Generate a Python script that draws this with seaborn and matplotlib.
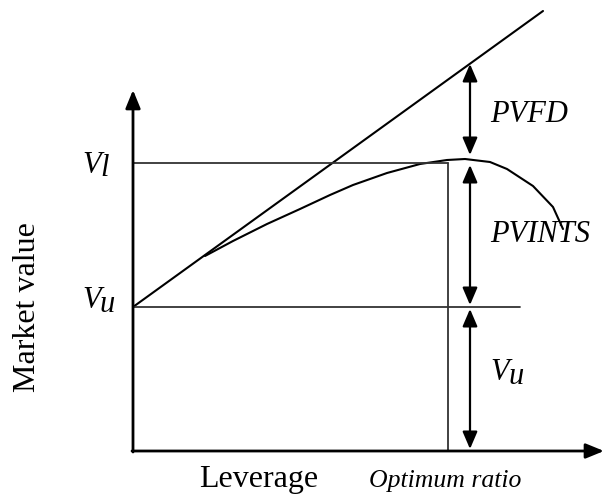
import matplotlib
matplotlib.use("Agg")
import matplotlib.pyplot as plt
import seaborn as sns
import pandas as pd

# ---- data (diagram units; origin at the axes corner) ----
line_x = [0, 410]                      # value of levered firm ignoring distress costs
line_y = [144, 440]
curve_x = [72, 100, 134, 167, 197, 220, 254, 287, 314, 332, 357, 374, 400, 420, 430]
curve_y = [195, 210, 227, 242, 256, 266, 278, 287, 291, 292, 289, 282, 265, 244, 222]
V_u = 144
V_l = 288
optimum_x = 315
vu_line_end = 387
arrow_x = 337
pvfd_span = [387, 296]
pvints_span = [286, 146]
vu_span = [142, 2]
x_axis_end = 471
y_axis_end = 361

sns.set_theme(style="white")
plt.rcParams['font.family'] = ['Liberation Serif', 'DejaVu Serif']

fig = plt.figure(figsize=(6.06, 4.95), dpi=100)
ax = fig.add_axes([0, 0, 1, 1])
ax.set_xlim(-133, 473)
ax.set_ylim(-44, 451)
ax.axis('off')

df_line = pd.DataFrame({'x': line_x, 'y': line_y})
df_curve = pd.DataFrame({'x': curve_x, 'y': curve_y})
sns.lineplot(data=df_line, x='x', y='y', ax=ax, color='black', lw=1.5, estimator=None)
sns.lineplot(data=df_curve, x='x', y='y', ax=ax, color='black', lw=1.5, estimator=None)

# horizontal and vertical guide lines
ax.plot([0, optimum_x], [V_l, V_l], color='#333333', lw=1.3)
ax.plot([optimum_x, optimum_x], [0, V_l], color='#333333', lw=1.3)
ax.plot([0, vu_line_end], [V_u, V_u], color='#333333', lw=1.3)

# axes with arrows
ax.annotate('', xy=(0, y_axis_end), xytext=(0, -1),
            arrowprops=dict(arrowstyle='-|>,head_length=1.1,head_width=0.45',
                            color='black', lw=2.0, shrinkA=0, shrinkB=0, mutation_scale=10))
ax.annotate('', xy=(x_axis_end, 0), xytext=(-1, 0),
            arrowprops=dict(arrowstyle='-|>,head_length=1.1,head_width=0.45',
                            color='black', lw=2.0, shrinkA=0, shrinkB=0, mutation_scale=10))

# double-headed arrows
for top, bot in (pvfd_span, pvints_span, vu_span):
    ax.annotate('', xy=(arrow_x, top), xytext=(arrow_x, bot),
                arrowprops=dict(arrowstyle='<|-|>,head_length=1.05,head_width=0.45',
                                color='black', lw=1.6, shrinkA=0, shrinkB=0, mutation_scale=10))

it = dict(style='italic', fontsize=22, color='black', va='baseline', ha='left')
ax.text(357, 329, 'PVFD', **it)
ax.text(357, 209, 'PVINTS', **it)
# right Vu
ax.text(357, 71, 'V', **it)
ax.text(375, 67, 'u', **it)
# left labels
ax.text(-51, 278, 'V', **it)
ax.text(-33, 275, 'l', **it)
ax.text(-51, 143, 'V', **it)
ax.text(-34, 139, 'u', **it)

ax.text(-98, 144, 'Market value', rotation=90, fontsize=23, ha='center', va='baseline',
        color='black', rotation_mode='anchor')
ax.text(126, -36, 'Leverage', fontsize=23, ha='center', va='baseline', color='black')
ax.text(312, -36, 'Optimum ratio', fontsize=18.5, style='italic', ha='center',
        va='baseline', color='black')

fig.savefig('out.png', dpi=100)
